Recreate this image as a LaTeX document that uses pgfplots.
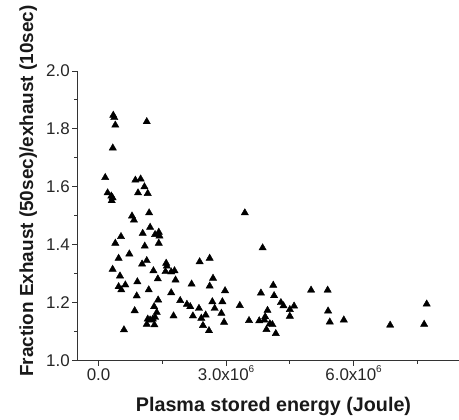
\documentclass[border=0pt]{standalone}
\usepackage{fontspec}
\setmainfont{Liberation Sans}
\usepackage{pgfplots}
\usepackage{pgfplotstable}
\pgfplotsset{compat=1.18}

\pgfplotstableread{
x y
0.157 1.632
0.346 1.847
0.370 1.839
0.394 1.813
0.335 1.734
1.134 1.825
0.213 1.579
0.300 1.568
0.330 1.562
0.310 1.552
0.866 1.623
0.990 1.627
1.079 1.600
0.929 1.579
1.157 1.577
0.787 1.499
0.833 1.485
1.190 1.510
1.213 1.460
1.039 1.439
1.330 1.435
1.417 1.443
1.433 1.430
1.417 1.405
0.528 1.428
0.394 1.405
1.087 1.395
0.724 1.368
0.472 1.353
1.024 1.333
1.134 1.345
0.331 1.315
1.291 1.310
1.591 1.336
1.606 1.326
1.575 1.307
1.709 1.306
1.787 1.310
0.504 1.292
0.472 1.255
0.535 1.244
0.630 1.261
0.913 1.272
1.181 1.244
1.394 1.282
1.811 1.278
1.709 1.234
0.898 1.223
1.402 1.209
0.850 1.172
1.307 1.186
1.370 1.166
1.331 1.149
1.157 1.143
1.276 1.143
1.134 1.125
1.315 1.123
1.213 1.140
0.598 1.106
1.764 1.154
1.921 1.207
2.079 1.194
2.157 1.186
2.189 1.264
2.220 1.154
2.378 1.341
2.362 1.180
2.417 1.146
2.520 1.157
2.457 1.121
2.598 1.103
2.614 1.353
2.614 1.257
2.693 1.284
2.677 1.203
2.732 1.180
2.913 1.203
2.890 1.163
2.976 1.241
2.953 1.132
3.323 1.190
3.441 1.510
3.540 1.138
3.780 1.137
3.860 1.389
3.820 1.233
4.110 1.260
4.130 1.224
3.975 1.173
3.920 1.151
3.900 1.140
4.030 1.127
4.090 1.124
3.950 1.107
4.170 1.093
4.290 1.200
4.350 1.189
4.500 1.176
4.600 1.188
4.500 1.153
5.000 1.243
5.390 1.243
5.400 1.171
5.440 1.133
5.770 1.140
6.860 1.122
7.720 1.195
7.660 1.125
}\datatable

\begin{document}
\begin{tikzpicture}
\begin{axis}[
  scale only axis, width=381.7bp, height=289.5bp,
  xmin=-0.5, xmax=8.48, ymin=1.0, ymax=2.0,
  axis x line*=bottom, axis y line*=left,
  axis line style={line width=0.9bp, color=black!80},
  tick align=outside,
  xtick={0,3,6}, xticklabels={0.0, {3.0x10\raisebox{0.45em}{\fontsize{10}{10}\selectfont 6}}, {6.0x10\raisebox{0.45em}{\fontsize{10}{10}\selectfont 6}}},
  minor xtick={1.5,4.5,7.5},
  ytick={1,1.2,1.4,1.6,1.8,2},
  yticklabels={1.0,1.2,1.4,1.6,1.8,2.0},
  minor ytick={1.1,1.3,1.5,1.7,1.9},
  major tick length=5bp, minor tick length=3bp,
  every tick/.style={line width=0.9bp, color=black!80},
  ticklabel style={font=\fontsize{17}{17}\selectfont, color=black!85},
  xticklabel style={anchor=base, yshift=-15bp},
  yticklabel style={xshift=1bp},
  xlabel={Plasma stored energy (Joule)},
  ylabel={Fraction Exhaust (50sec)/exhaust (10sec)},
  label style={font=\fontsize{19}{19}\selectfont\bfseries, color=black!90},
  xlabel style={font=\fontsize{19.8}{19.8}\selectfont\bfseries, at={(axis description cs:0.514,-0.177)}, anchor=base},
  ylabel style={at={(axis description cs:-0.116,-0.068)}, anchor=base west},
  clip=false,
]
\addplot[only marks, mark=triangle*, mark size=4.2bp, black] table[x=x,y=y] {\datatable};
\coordinate (sw) at (rel axis cs:0,0);
\coordinate (ne) at (rel axis cs:1,1);
\end{axis}
\pgfresetboundingbox
\path[use as bounding box] ([shift={(-77.3bp,-59.5bp)}]sw) rectangle ([shift={(0bp,71bp)}]ne);
\end{tikzpicture}
\end{document}
